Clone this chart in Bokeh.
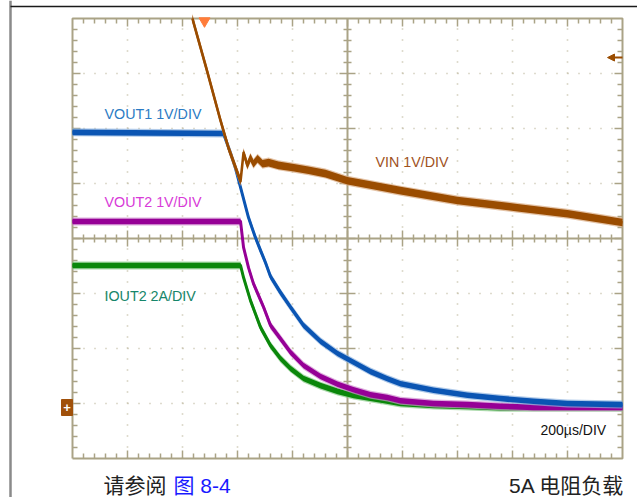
from bokeh.plotting import figure
from bokeh.models import Range1d, Label, Arrow, NormalHead
from bokeh.embed import file_html
from bokeh.resources import INLINE

# ---------------- data ----------------
# time in microseconds from the left edge of the screen (200 us/div)
vout1_t = [0, 549, 575, 593, 611, 640, 665, 684, 702, 720, 756, 793, 840, 902, 964, 1022, 1084, 1145,
           1193, 1313, 1436, 1556, 1676, 1800, 2000]
vout1_v = [4.93, 4.91, 4.55, 4.27, 3.93, 3.38, 3.02, 2.78, 2.56, 2.31, 2.02, 1.75, 1.42, 1.13, 0.91, 0.75,
           0.58, 0.45, 0.36, 0.24, 0.15, 0.09, 0.04, 0.00, -0.02]

vout2_t = [0, 611, 622, 640, 658, 695, 720, 756, 793, 840, 902, 964, 1022, 1084, 1145, 1193, 1313, 1436,
           1556, 1676, 2000]
vout2_v = [3.31, 3.31, 2.84, 2.47, 2.18, 1.75, 1.42, 1.18, 0.93, 0.69, 0.49, 0.35, 0.25, 0.16, 0.11, 0.05,
           0.00, -0.02, -0.05, -0.07, -0.07]

iout2_t = [0, 611, 622, 647, 684, 720, 756, 793, 840, 902, 964, 1022, 1131, 1193, 1313, 1436, 1556, 2000]
iout2_a = [5.02, 5.02, 4.58, 3.75, 2.76, 2.11, 1.64, 1.27, 0.91, 0.65, 0.44, 0.29, 0.11, 0.00, -0.07,
           -0.11, -0.15, -0.15]

vin_t = [436, 487, 538, 567, 593, 611, 622, 636, 647, 658, 673, 691, 713, 749, 800, 858, 920, 1000, 1193,
         1400, 1618, 1800, 2000]
vin_v = [7.00, 6.09, 5.15, 4.65, 4.29, 4.04, 4.56, 4.33, 4.47, 4.36, 4.45, 4.36, 4.38, 4.33, 4.29, 4.24,
         4.18, 4.05, 3.87, 3.69, 3.56, 3.45, 3.29]

trigger_time_us = 480
vin_trigger_level_v = 6.29

label_texts = ["VOUT1 1V/DIV", "VOUT2 1V/DIV", "IOUT2 2A/DIV", "VIN 1V/DIV"]
timebase_text = "200µs/DIV"
caption_left = "请参阅"
caption_link = "图 8-4"
caption_right = "5A 电阻负载"

# ---------------- layout ----------------
W, H = 637, 497
PX = 55            # pixels per division
LEFT, TOP = 72, 18  # screen origin in pixels
NX, NY = 10, 8
US_PER_DIV = 200
GROUND_DIV = 1
V_PER_DIV = 1
A_PER_DIV = 2


def xd(px):
    return (px - LEFT) / PX * US_PER_DIV


def yd(py):
    return (TOP + NY * PX - py) / PX


def X(d):
    return d * US_PER_DIV


p = figure(width=W, height=H, x_range=Range1d(xd(0), xd(W)), y_range=Range1d(yd(H), yd(0)),
           x_axis_type=None, y_axis_type=None, toolbar_location=None, output_backend="svg",
           min_border=0, outline_line_color=None, background_fill_color="white",
           border_fill_color="white")
p.extra_y_ranges = {
    "volt": Range1d((yd(H) - GROUND_DIV) * V_PER_DIV, (yd(0) - GROUND_DIV) * V_PER_DIV),
    "amp": Range1d((yd(H) - GROUND_DIV) * A_PER_DIV, (yd(0) - GROUND_DIV) * A_PER_DIV),
}

GRID = "#aaa386"
GRID_DOT = "#bdb79c"

# outer page frame
p.segment(x0=[xd(10)], y0=[yd(0)], x1=[xd(10)], y1=[yd(H)], line_color="#8a8a8a", line_width=2.5)
p.segment(x0=[xd(10)], y0=[yd(6)], x1=[xd(W)], y1=[yd(6)], line_color="#1a1a1a", line_width=1.5)

# dotted graticule
gx, gy = [], []
for i in range(1, NX):
    if i != NX // 2:
        gx.append([X(i), X(i)])
        gy.append([0, NY])
for j in range(1, NY):
    if j != NY // 2:
        gx.append([0, X(NX)])
        gy.append([j, j])
p.multi_line(gx, gy, line_color=GRID_DOT, line_width=1.6, line_dash="1 10")

# solid border and center cross
p.multi_line([[0, X(NX), X(NX), 0, 0], [X(NX / 2), X(NX / 2)], [0, X(NX)]],
             [[0, 0, NY, NY, 0], [0, NY], [NY / 2, NY / 2]],
             line_color=GRID, line_width=2)

# ticks
tx0, ty0, tx1, ty1 = [], [], [], []
dx = lambda n: n / PX * US_PER_DIV
dy = lambda n: n / PX
for k in range(1, NX * 5):
    x = X(k / 5)
    major = k % 5 == 0
    L = 8 if major else 5
    tx0 += [x, x]; ty0 += [NY, 0]; tx1 += [x, x]; ty1 += [NY - dy(L), dy(L)]
    c = 8 if major else 4
    tx0.append(x); ty0.append(NY / 2 - dy(c)); tx1.append(x); ty1.append(NY / 2 + dy(c))
for k in range(1, NY * 5):
    y = k / 5
    major = k % 5 == 0
    L = 8 if major else 5
    tx0 += [0, X(NX)]; ty0 += [y, y]; tx1 += [dx(L), X(NX) - dx(L)]; ty1 += [y, y]
    c = 8 if major else 4
    tx0.append(X(NX / 2) - dx(c)); ty0.append(y); tx1.append(X(NX / 2) + dx(c)); ty1.append(y)
p.segment(x0=tx0, y0=ty0, x1=tx1, y1=ty1, line_color=GRID, line_width=1.5)


# traces
def trace(t, v, color, halo, h_px, lw, rng, per_div):
    h = h_px / PX * per_div
    hh = (h_px + 1.2) / PX * per_div
    p.varea(x=t, y1=[a - hh for a in v], y2=[a + hh for a in v], fill_color=halo, fill_alpha=0.7,
            y_range_name=rng)
    p.varea(x=t, y1=[a - h for a in v], y2=[a + h for a in v], fill_color=color, y_range_name=rng)
    p.line(t, v, line_color=color, line_width=lw, y_range_name=rng, line_join="round")


trace(iout2_t, iout2_a, "#0b870b", "#86c986", 2.8, 3, "amp", A_PER_DIV)
trace(vout2_t, vout2_v, "#960096", "#cf8acf", 2.8, 3, "volt", V_PER_DIV)
trace(vout1_t, vout1_v, "#0b55b3", "#8fb3e0", 2.8, 3, "volt", V_PER_DIV)
trace(vin_t, vin_v, "#9a4c00", "#d9aa80", 3.8, 2.6, "volt", V_PER_DIV)

# markers
p.scatter(x=[trigger_time_us], y=[yd(20.5)], marker="inverted_triangle", size=11,
          fill_color="#ff7c3a", line_color="#ff7c3a")
p.add_layout(Arrow(end=NormalHead(size=7, fill_color="#9a4c00", line_color="#9a4c00"),
                   x_start=xd(622), x_end=xd(607),
                   y_start=vin_trigger_level_v, y_end=vin_trigger_level_v,
                   y_range_name="volt", line_color="#9a4c00", line_width=2))
p.rect(x=[xd(66.5)], y=[yd(407)], width=dx(11), height=dy(16), fill_color="#a0500a",
       line_color="#a0500a")
p.add_layout(Label(x=xd(66.5), y=yd(407), text="+", text_color="white", text_font_size="13px",
                   text_font_style="bold", text_align="center", text_baseline="middle",
                   text_font="Liberation Sans"))

SANS = "Liberation Sans"
# (left x, baseline y) in page pixels; labels are placed by their middle
lab_pos = [(104, 118), (104, 206), (104, 300), (375, 166)]
lab_col = ["#2b7bc4", "#d83ad8", "#16866a", "#a0521d"]
for txt, (lx, ly), col in zip(label_texts, lab_pos, lab_col):
    p.add_layout(Label(x=xd(lx), y=yd(ly - 5), text=txt, text_color=col, text_font_size="14.3px",
                       text_font=SANS, text_baseline="middle"))
p.add_layout(Label(x=xd(540), y=yd(434 - 5), text=timebase_text, text_color="#111111",
                   text_font_size="14px", text_font=SANS, text_baseline="middle"))

CJK = "Liberation Sans, Noto Sans CJK SC"
BY = 492 - 7.5
p.add_layout(Label(x=xd(103), y=yd(BY), text=caption_left, text_color="#222222",
                   text_font_size="21px", text_font=CJK, text_baseline="middle"))
p.add_layout(Label(x=xd(173), y=yd(BY), text=caption_link, text_color="#1a1aff",
                   text_font_size="21px", text_font=CJK, text_baseline="middle"))
p.add_layout(Label(x=xd(624), y=yd(BY), text=caption_right, text_color="#222222",
                   text_font_size="21px", text_font=CJK, text_baseline="middle",
                   text_align="right"))

open("out.html", "w").write(file_html(p, INLINE))
